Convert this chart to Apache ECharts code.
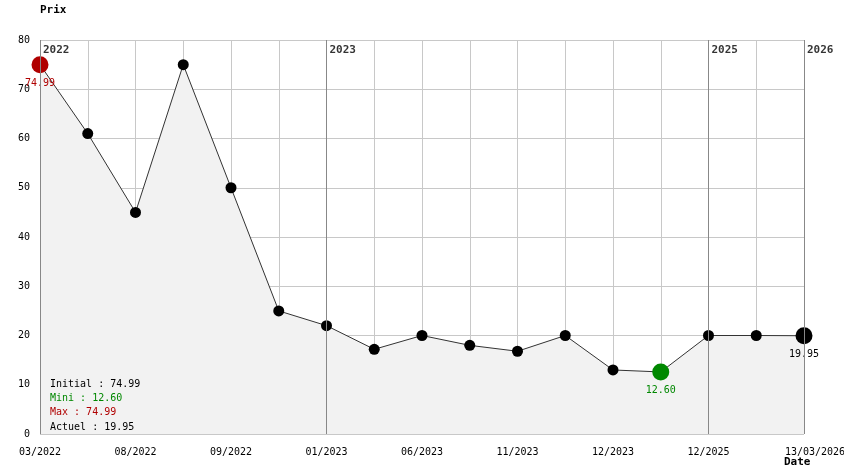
<!DOCTYPE html>
<html>
<head>
<meta charset="utf-8">
<script src="https://cdn.jsdelivr.net/npm/echarts@6/dist/echarts.min.js"></script>
<style>html,body{margin:0;padding:0;background:#fff}#c{width:844px;height:474px}</style>
</head>
<body>
<div id="c"></div>
<script>
// Data
const xLabels = ['03/2022','','08/2022','','09/2022','','01/2023','','06/2023','','11/2023','','12/2023','','12/2025','','13/03/2026'];
const prices = [74.99, 61.0, 45.0, 75.0, 50.0, 25.0, 22.0, 17.2, 20.0, 18.0, 16.8, 20.0, 13.0, 12.6, 20.0, 20.0, 19.95];
const yearIdx = [0, 6, 14, 16];
const yearLabels = ['2022', '2023', '2025', '2026'];
const yTicks = [0, 10, 20, 30, 40, 50, 60, 70, 80];

const FONT = 'DejaVu Sans Mono';
const initial = prices[0];
const actual = prices[prices.length - 1];
const minV = Math.min(...prices);
const maxV = initial; // displayed max (first point)
const minI = prices.indexOf(minV);
const cats = xLabels.map((_, i) => String(i));

function special(v, color) {
  return { value: v, symbolSize: 17, itemStyle: { color: color },
    label: { show: true, position: 'bottom', distance: 5, color: color, formatter: v.toFixed(2) } };
}
const seriesData = prices.map((v, i) => {
  if (i === 0) return special(v, '#b00000');
  if (i === minI) return special(v, '#008800');
  if (i === prices.length - 1) return special(v, '#000000');
  return { value: v };
});

const chart = echarts.init(document.getElementById('c'), null, { renderer: 'canvas' });
chart.setOption({
  animation: false,
  backgroundColor: '#fff',
  grid: { left: 40, right: 40, top: 40, bottom: 40, containLabel: false, outerBoundsMode: 'none' },
  xAxis: {
    type: 'category', data: cats, boundaryGap: false,
    axisLine: { show: false }, axisTick: { show: false },
    axisLabel: { interval: 0, margin: 13, fontFamily: FONT, fontSize: 10, color: '#000',
      alignMinLabel: 'center', alignMaxLabel: 'center',
      formatter: (v, i) => (i === xLabels.length - 1 ? '{last|' + xLabels[i] + '}' : xLabels[i]),
      rich: { last: { fontFamily: FONT, fontSize: 10, color: '#000', padding: [0, 0, 0, 22] } } },
    splitLine: { show: true, interval: 0, lineStyle: { color: '#c8c8c8', width: 1 } }
  },
  yAxis: {
    type: 'value', min: 0, max: 80, interval: 10,
    axisLine: { show: false }, axisTick: { show: false },
    axisLabel: { margin: 10, fontFamily: FONT, fontSize: 10, color: '#000' },
    splitLine: { show: true, lineStyle: { color: '#c8c8c8', width: 1 } }
  },
  series: [
    {
      type: 'line', data: seriesData, symbol: 'circle', symbolSize: 11,
      itemStyle: { color: '#000' },
      lineStyle: { color: '#333', width: 1 },
      areaStyle: { color: '#f2f2f2', opacity: 1 },
      label: { fontFamily: FONT, fontSize: 10 },
      z: 3,
      markLine: {
        silent: true, symbol: 'none', animation: false,
        lineStyle: { color: '#888', width: 1, type: 'solid' },
        label: { show: false },
        data: yearIdx.map(i => ({ xAxis: String(i) }))
      }
    },
    {
      type: 'scatter', symbolSize: 0, silent: true, z: 4,
      data: yearIdx.map((i, k) => ({ value: [String(i), 80], name: yearLabels[k] })),
      label: { show: true, position: 'right', distance: 3, offset: [0, 10],
        formatter: p => p.name, fontFamily: FONT, fontSize: 11, fontWeight: 'bold', color: '#000' }
    }
  ],
  graphic: [
    { type: 'text', z: 100, left: 40, top: 5, style: { text: 'Prix', font: 'bold 11px ' + FONT, fill: '#000' } },
    { type: 'text', z: 100, left: 784, top: 457, style: { text: 'Date', font: 'bold 11px ' + FONT, fill: '#000' } },
    { type: 'text', z: 100, left: 50, top: 379, style: { text: 'Initial : ' + initial.toFixed(2), font: '10px ' + FONT, fill: '#000' } },
    { type: 'text', z: 100, left: 50, top: 393, style: { text: 'Mini : ' + minV.toFixed(2), font: '10px ' + FONT, fill: '#008800' } },
    { type: 'text', z: 100, left: 50, top: 407, style: { text: 'Max : ' + maxV.toFixed(2), font: '10px ' + FONT, fill: '#b00000' } },
    { type: 'text', z: 100, left: 50, top: 422, style: { text: 'Actuel : ' + actual.toFixed(2), font: '10px ' + FONT, fill: '#000' } }
  ]
});
</script>
</body>
</html>
